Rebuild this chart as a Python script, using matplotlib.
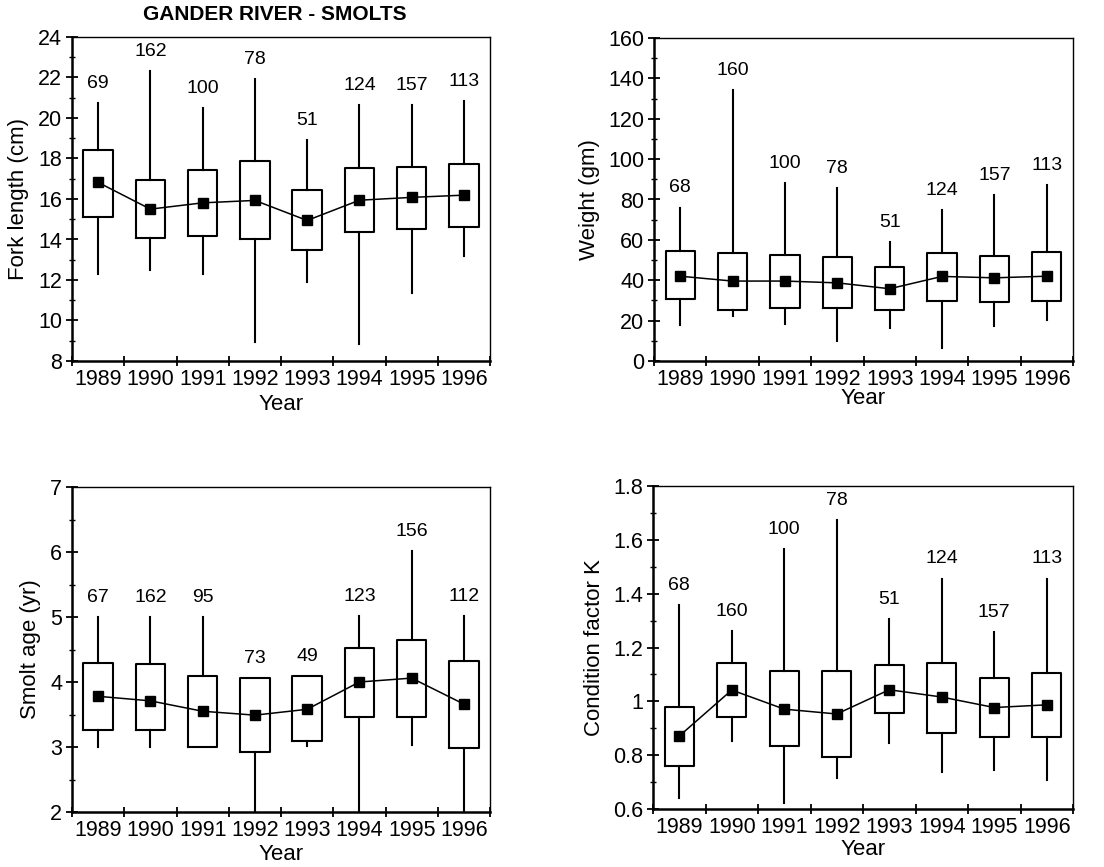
import matplotlib
matplotlib.use("Agg")
import matplotlib.pyplot as plt
from matplotlib.ticker import MultipleLocator, FuncFormatter, FixedLocator

plt.rcParams['font.family'] = ['Liberation Sans', 'DejaVu Sans']

years = ["1989", "1990", "1991", "1992", "1993", "1994", "1995", "1996"]

# Fork length (cm)
fl_n = [69, 162, 100, 78, 51, 124, 157, 113]
fl_whishi = [20.74, 22.30, 20.49, 21.94, 18.93, 20.62, 20.62, 20.85]
fl_q3 = [18.43, 16.93, 17.43, 17.86, 16.42, 17.53, 17.59, 17.74]
fl_mid = [16.82, 15.50, 15.81, 15.93, 14.94, 15.94, 16.08, 16.19]
fl_q1 = [15.12, 14.07, 14.16, 14.02, 13.49, 14.36, 14.54, 14.63]
fl_whislo = [12.30, 12.50, 12.30, 8.93, 11.92, 8.83, 11.38, 13.19]

# Weight (gm)
wt_n = [68, 160, 100, 78, 51, 124, 157, 113]
wt_whishi = [76.0, 134.0, 88.2, 85.7, 58.7, 74.6, 82.1, 87.3]
wt_q3 = [54.4, 53.7, 52.6, 51.4, 46.6, 53.6, 52.2, 54.1]
wt_mid = [42.0, 39.6, 39.6, 38.7, 35.8, 41.9, 41.2, 42.0]
wt_q1 = [30.5, 25.2, 26.4, 26.5, 25.2, 29.7, 29.3, 29.7]
wt_whislo = [17.8, 22.4, 18.3, 9.9, 16.2, 6.3, 17.5, 20.3]

# Smolt age (yr)
age_n = [67, 162, 95, 73, 49, 123, 156, 112]
age_whishi = [5.0, 5.0, 5.0, 4.06, 4.09, 5.02, 6.01, 5.02]
age_q3 = [4.30, 4.28, 4.10, 4.06, 4.09, 4.52, 4.64, 4.32]
age_mid = [3.78, 3.71, 3.55, 3.49, 3.58, 4.00, 4.06, 3.66]
age_q1 = [3.26, 3.26, 3.00, 2.93, 3.09, 3.46, 3.46, 2.99]
age_whislo = [3.0, 3.0, 3.0, 2.0, 3.02, 2.0, 3.03, 2.0]

# Condition factor K
k_n = [68, 160, 100, 78, 51, 124, 157, 113]
k_whishi = [1.358, 1.262, 1.567, 1.674, 1.305, 1.456, 1.256, 1.456]
k_q3 = [0.980, 1.142, 1.111, 1.112, 1.134, 1.143, 1.087, 1.106]
k_mid = [0.871, 1.042, 0.971, 0.953, 1.043, 1.016, 0.977, 0.987]
k_q1 = [0.758, 0.940, 0.833, 0.794, 0.955, 0.884, 0.868, 0.868]
k_whislo = [0.640, 0.854, 0.622, 0.714, 0.847, 0.736, 0.746, 0.708]

W, H = 1104, 867
fig = plt.figure(figsize=(W / 100, H / 100), dpi=100)


def rect(l, r, t, b):
    return [l / W, 1 - b / H, (r - l) / W, (b - t) / H]


panels = [
    dict(rect=rect(72, 490, 37, 361), n=fl_n, hi=fl_whishi, q3=fl_q3, mid=fl_mid,
         q1=fl_q1, lo=fl_whislo, ylim=(8, 24), major=2, minor=1,
         ylabel="Fork length (cm)", ylx=-0.127, xly=-0.135),
    dict(rect=rect(654, 1073, 38, 361), n=wt_n, hi=wt_whishi, q3=wt_q3, mid=wt_mid,
         q1=wt_q1, lo=wt_whislo, ylim=(0, 160), major=20, minor=10,
         ylabel="Weight (gm)", ylx=-0.155, xly=-0.115),
    dict(rect=rect(72, 490, 487, 812), n=age_n, hi=age_whishi, q3=age_q3, mid=age_mid,
         q1=age_q1, lo=age_whislo, ylim=(2, 7), major=1, minor=0.5,
         ylabel="Smolt age (yr)", ylx=-0.10, xly=-0.132),
    dict(rect=rect(653, 1073, 486, 809), n=k_n, hi=k_whishi, q3=k_q3, mid=k_mid,
         q1=k_q1, lo=k_whislo, ylim=(0.6, 1.8), major=0.2, minor=0.1,
         ylabel="Condition factor K", ylx=-0.14, xly=-0.124),
]

FS_TICK = 15.5
FS_LAB = 16
FS_N = 14

for p in panels:
    ax = fig.add_axes(p["rect"])
    x = list(range(1, len(years) + 1))
    stats = []
    for i in range(len(years)):
        stats.append(dict(med=p["mid"][i], q1=p["q1"][i], q3=p["q3"][i],
                          whislo=p["lo"][i], whishi=p["hi"][i], label=years[i]))
    ax.bxp(stats, positions=x, widths=0.56, showcaps=False, showfliers=False,
           boxprops=dict(color="black", linewidth=1.5),
           whiskerprops=dict(color="black", linewidth=1.5),
           medianprops=dict(linewidth=0))
    ax.plot(x, p["mid"], color="black", linewidth=1.1, marker="s",
            markersize=6.5, markerfacecolor="black", zorder=5)
    for xi, hi, n in zip(x, p["hi"], p["n"]):
        ax.annotate(str(n), (xi, hi), xytext=(0, 8), textcoords="offset points",
                    ha="center", va="bottom", fontsize=FS_N)
    ax.set_xlim(0.5, len(years) + 0.5)
    ax.set_ylim(*p["ylim"])
    ax.xaxis.set_major_locator(FixedLocator([i + 0.5 for i in range(0, len(years) + 1)]))
    ax.xaxis.set_major_formatter(FuncFormatter(lambda v, pos: ""))
    ax.xaxis.set_minor_locator(FixedLocator(x))
    ax.xaxis.set_minor_formatter(FuncFormatter(lambda v, pos: years[int(round(v)) - 1]))
    ax.tick_params(axis="x", which="major", direction="inout", length=7, width=1.3)
    ax.tick_params(axis="x", which="minor", length=0, labelsize=FS_TICK, pad=6)
    ax.yaxis.set_major_locator(MultipleLocator(p["major"]))
    ax.yaxis.set_minor_locator(MultipleLocator(p["minor"]))
    ax.yaxis.set_major_formatter(FuncFormatter(lambda v, pos: "%g" % round(v, 3)))
    ax.tick_params(axis="y", which="major", direction="inout", length=8, width=1.3,
                   labelsize=FS_TICK, pad=3)
    ax.tick_params(axis="y", which="minor", direction="inout", length=5, width=1.0)
    for s in ["left", "bottom"]:
        ax.spines[s].set_linewidth(1.8)
    for s in ["top", "right"]:
        ax.spines[s].set_linewidth(1.0)
    ax.set_ylabel(p["ylabel"], fontsize=FS_LAB, va="center")
    ax.yaxis.set_label_coords(p["ylx"], 0.5)
    ax.set_xlabel("Year", fontsize=FS_LAB, va="center")
    ax.xaxis.set_label_coords(0.5, p["xly"])

fig.text(275 / W, 1 - 15 / H, "GANDER RIVER - SMOLTS", ha="center", va="center",
         fontsize=15, fontweight="bold")

fig.savefig("out.png", dpi=100)
